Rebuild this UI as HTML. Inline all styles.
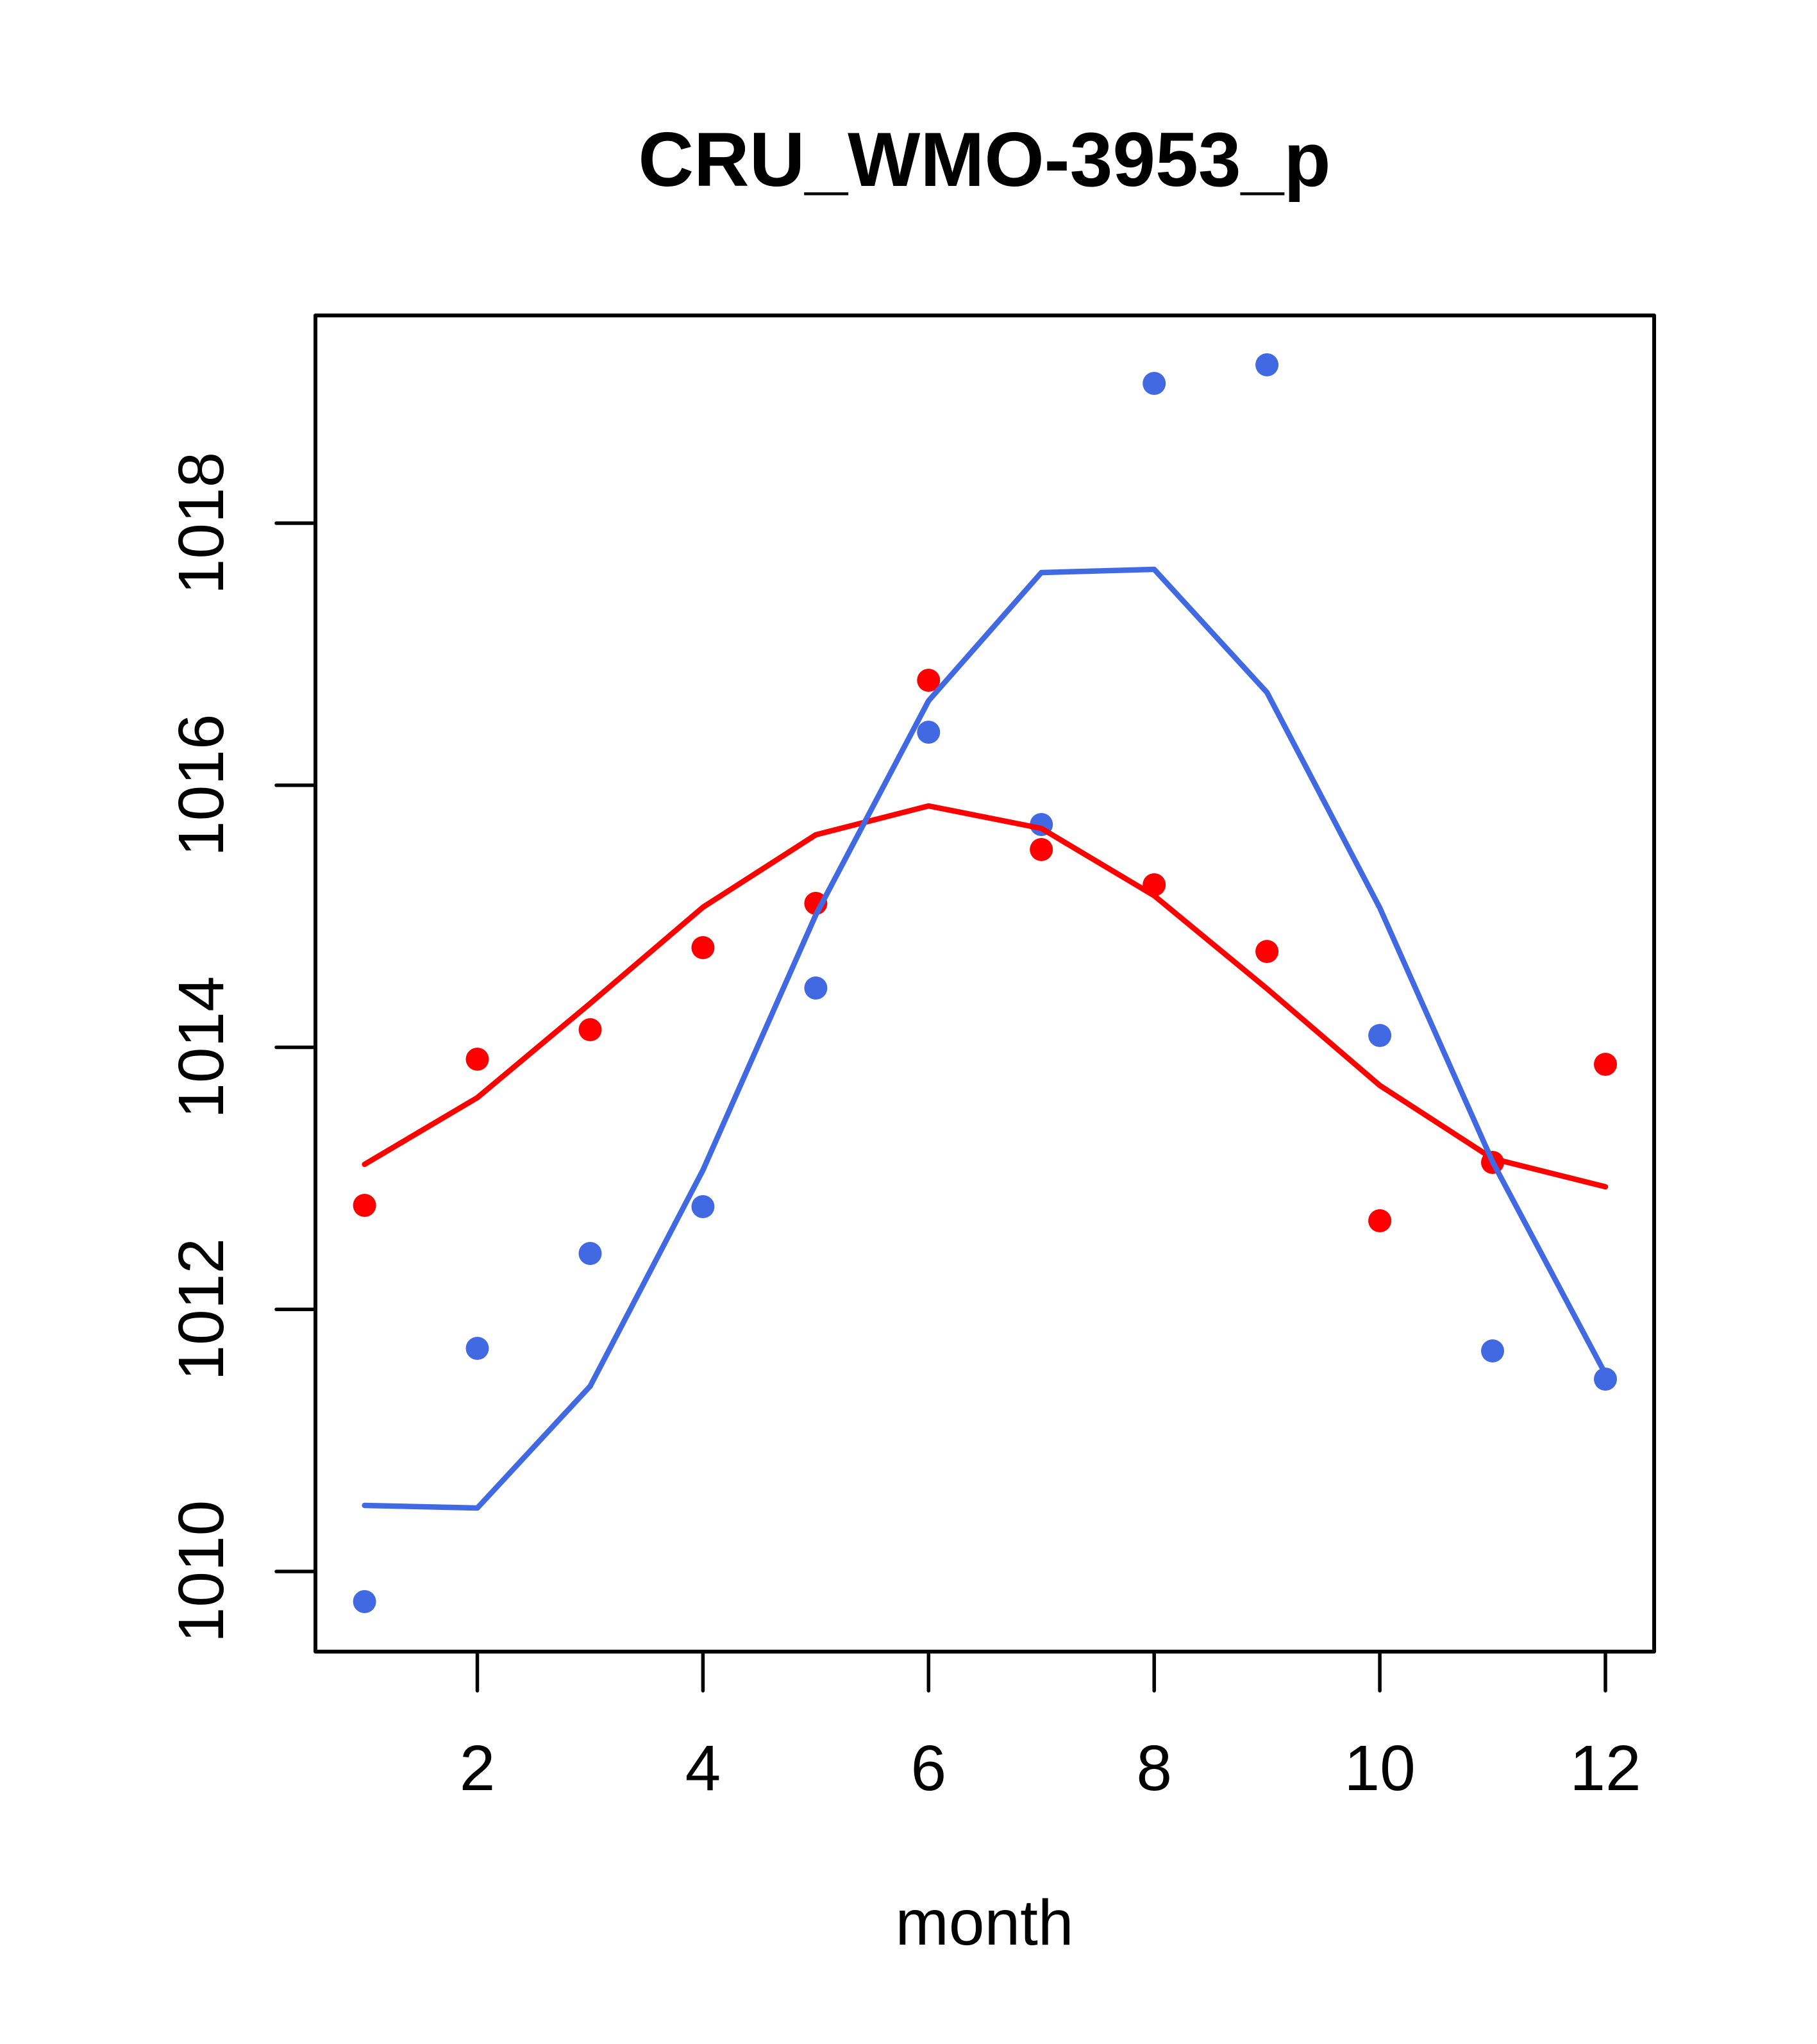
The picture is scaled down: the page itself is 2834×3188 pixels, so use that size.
<!DOCTYPE html>
<html>
<head>
<meta charset="utf-8">
<style>
  html, body { margin: 0; padding: 0; background: #ffffff; }
  svg { display: block; }
  text { font-family: "Liberation Sans", "DejaVu Sans", sans-serif; fill: #000; }
</style>
</head>
<body>
<svg xmlns="http://www.w3.org/2000/svg" width="2834" height="3188" viewBox="0 0 2834 3188">
  <rect x="0" y="0" width="2834" height="3188" fill="#ffffff"/>

  <!-- Title -->
  <text x="1535.5" y="290" text-anchor="middle" font-size="120" font-weight="bold">CRU_WMO-3953_p</text>

  <!-- Plot box -->
  <rect x="492" y="492" width="2088" height="2084" fill="none" stroke="#000" stroke-width="6" stroke-linejoin="round"/>

  <!-- X axis -->
  <g stroke="#000" stroke-width="5.5" stroke-linecap="round">
    <line x1="744.5" y1="2576" x2="2504" y2="2576"/>
    <line x1="744.5" y1="2576" x2="744.5" y2="2637"/>
    <line x1="1096.4" y1="2576" x2="1096.4" y2="2637"/>
    <line x1="1448.3" y1="2576" x2="1448.3" y2="2637"/>
    <line x1="1800.2" y1="2576" x2="1800.2" y2="2637"/>
    <line x1="2152.1" y1="2576" x2="2152.1" y2="2637"/>
    <line x1="2504" y1="2576" x2="2504" y2="2637"/>
  </g>
  <g font-size="100" text-anchor="middle">
    <text x="744.5" y="2792">2</text>
    <text x="1096.4" y="2792">4</text>
    <text x="1448.3" y="2792">6</text>
    <text x="1800.2" y="2792">8</text>
    <text x="2152.1" y="2792">10</text>
    <text x="2504" y="2792">12</text>
  </g>
  <text x="1535.5" y="3033" font-size="100" text-anchor="middle">month</text>

  <!-- Y axis -->
  <g stroke="#000" stroke-width="5.5" stroke-linecap="round">
    <line x1="492" y1="816" x2="492" y2="2451"/>
    <line x1="431" y1="816" x2="492" y2="816"/>
    <line x1="431" y1="1224.75" x2="492" y2="1224.75"/>
    <line x1="431" y1="1633.5" x2="492" y2="1633.5"/>
    <line x1="431" y1="2042.25" x2="492" y2="2042.25"/>
    <line x1="431" y1="2451" x2="492" y2="2451"/>
  </g>
  <g font-size="100" text-anchor="middle">
    <text transform="translate(348,816) rotate(-90)">1018</text>
    <text transform="translate(348,1224.75) rotate(-90)">1016</text>
    <text transform="translate(348,1633.5) rotate(-90)">1014</text>
    <text transform="translate(348,2042.25) rotate(-90)">1012</text>
    <text transform="translate(348,2451) rotate(-90)">1010</text>
  </g>

  <!-- Blue series points -->
  <g fill="#4169E1">
    <circle cx="568.6" cy="2498" r="18"/>
    <circle cx="744.5" cy="2103" r="18"/>
    <circle cx="920.5" cy="1955" r="18"/>
    <circle cx="1096.4" cy="1882" r="18"/>
    <circle cx="1272.4" cy="1541" r="18"/>
    <circle cx="1448.3" cy="1142" r="18"/>
    <circle cx="1624.2" cy="1286" r="18"/>
    <circle cx="1800.2" cy="598" r="18"/>
    <circle cx="1976.1" cy="569" r="18"/>
    <circle cx="2152.1" cy="1615" r="18"/>
    <circle cx="2328" cy="2107" r="18"/>
    <circle cx="2504" cy="2151" r="18"/>
  </g>

  <!-- Red series points -->
  <g fill="#FF0000">
    <circle cx="568.6" cy="1880" r="18"/>
    <circle cx="744.5" cy="1652" r="18"/>
    <circle cx="920.5" cy="1606" r="18"/>
    <circle cx="1096.4" cy="1478" r="18"/>
    <circle cx="1272.4" cy="1409" r="18"/>
    <circle cx="1448.3" cy="1061" r="18"/>
    <circle cx="1624.2" cy="1325" r="18"/>
    <circle cx="1800.2" cy="1380" r="18"/>
    <circle cx="1976.1" cy="1484" r="18"/>
    <circle cx="2152.1" cy="1904" r="18"/>
    <circle cx="2328" cy="1813" r="18"/>
    <circle cx="2504" cy="1660" r="18"/>
  </g>

  <!-- Red line -->
  <polyline fill="none" stroke="#FF0000" stroke-width="8.5" stroke-linejoin="round" stroke-linecap="round"
    points="568.6,1816 744.5,1712 920.5,1565 1096.4,1415 1272.4,1302 1448.3,1257 1624.2,1292 1800.2,1397 1976.1,1542 2152.1,1693 2328,1807 2504,1851"/>

  <!-- Blue line -->
  <polyline fill="none" stroke="#4169E1" stroke-width="8.5" stroke-linejoin="round" stroke-linecap="round"
    points="568.6,2348 744.5,2352 920.5,2162 1096.4,1825 1272.4,1427 1448.3,1093 1624.2,893 1800.2,888 1976.1,1080 2152.1,1416 2328,1812 2504,2143"/>
</svg>
</body>
</html>
